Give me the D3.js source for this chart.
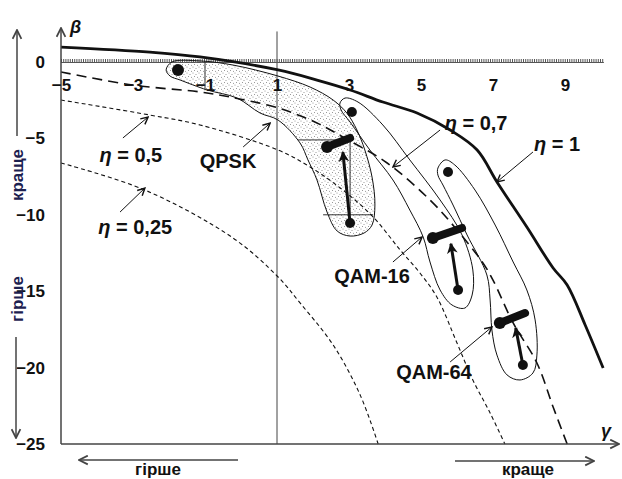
<!DOCTYPE html>
<html><head><meta charset="utf-8">
<script src="https://cdn.jsdelivr.net/npm/d3@7"></script>
<style>
html,body{margin:0;padding:0;background:#fff;}
svg{display:block;}
text{font-family:"Liberation Sans",Arial,sans-serif;font-weight:bold;fill:#111;}
</style></head>
<body>
<svg id="c" width="622" height="479"></svg>
<script>
// ---- data (γ, β) ----
const gammaTicks = [-5, -3, -1, 1, 3, 5, 7, 9];
const betaTicks = [0, -5, -10, -15, -20, -25];

const eta1 = [[-5,0.98],[-2.53,0.65],[-1.14,0.33],[1.03,-0.52],[2.11,-1.18],[3.03,-1.83],[3.94,-2.62],[4.89,-3.34],[5.81,-4.45],[6.56,-5.76],[7.11,-7.85],[7.94,-10.8],[8.67,-13.48],[9.06,-14.59],[9.56,-17.21],[10.06,-20.03]];
const eta07 = [[-5,-0.65],[-3,-1.51],[-1.14,-1.96],[-0.31,-2.29],[1.03,-3.01],[2.11,-3.99],[2.83,-4.91],[4.06,-6.61],[5.25,-9.03],[6.0,-10.99],[6.72,-13.15],[7.0,-14.27],[7.56,-17.08],[8.22,-19.7],[8.67,-22.58],[9.06,-25]];
const eta05 = [[-5,-2.49],[-2.53,-3.47],[-1.14,-4.12],[1.03,-5.76],[1.92,-6.87],[2.83,-8.38],[3.67,-10.14],[4.42,-12.3],[4.97,-13.81],[5.44,-15.38],[6.0,-18.39],[6.44,-20.81],[6.92,-22.97],[7.33,-25]];
const eta025 = [[-5,-6.61],[-2.67,-8.38],[-0.22,-11.52],[1.03,-14.07],[1.64,-15.77],[2.56,-18.52],[3.31,-21.79],[3.81,-25]];

const qpskRegion = [[-2.08,-0.52],[-1.92,0],[-1.14,0.07],[-0.22,-0.2],[1.03,-0.92],[1.92,-1.64],[2.56,-2.49],[2.94,-3.34],[3.22,-4.45],[3.44,-5.76],[3.64,-7.53],[3.72,-9.36],[3.64,-10.67],[3.42,-11.19],[3.03,-11.39],[2.67,-11.06],[2.39,-9.82],[2.11,-7.72],[1.86,-6.41],[1.64,-5.3],[1.03,-3.8],[0.53,-3.34],[-0.11,-2.36],[-0.94,-1.83],[-1.69,-1.18],[-1.97,-0.92]];
const qam16Region = [[2.75,-2.68],[2.89,-2.36],[3.25,-2.62],[3.94,-4.12],[4.69,-6.41],[5.53,-9.03],[6.14,-11.32],[6.44,-13.61],[6.42,-15.25],[6.22,-16.1],[5.86,-15.9],[5.53,-14.92],[5.25,-13.09],[5.06,-11.45],[4.69,-9.69],[4.22,-7.72],[3.58,-5.76],[3.03,-3.93],[2.78,-3.14]];
const qam64Region = [[5.47,-6.94],[5.67,-6.41],[5.94,-6.74],[6.5,-8.38],[7.06,-10.67],[7.56,-13.09],[7.94,-14.92],[8.17,-16.88],[8.22,-19.18],[8.11,-20.35],[7.75,-20.81],[7.39,-20.48],[7.11,-19.18],[6.97,-17.54],[6.92,-15.58],[6.83,-13.94],[6.28,-11.32],[5.89,-9.36],[5.61,-8.05],[5.47,-7.4]];

// QPSK projection lines
const qpskGuides = [[[-1,0],[-1,-1.85]],[[1.58,-5.1],[3.03,-5.1]],[[3.03,-5.1],[3.03,-10.0]],[[2.28,-10.0],[3.67,-10.0]]];

// single points (start points of each scheme)
const topDots = [[-1.75,-0.52,6],[3.08,-3.27,5],[5.75,-7.2,5]];
// clusters: bar from/to, bottom dot, arrow head
const clusters = [
  {bar:[[2.39,-5.56],[3.03,-4.97]], bottom:[3.03,-10.54], head:[2.83,-5.9]},
  {bar:[[5.33,-11.52],[6.14,-10.86]], bottom:[6.03,-14.92], head:[5.83,-11.9]},
  {bar:[[7.19,-17.08],[7.89,-16.43]], bottom:[7.83,-19.83], head:[7.63,-17.4]}
];

const labels = [
  {t:"η = 0,5", g:-3.06, b:-6.09, from:[-3.28,-4.97], to:[-2.58,-3.6]},
  {t:"η = 0,25", g:-2.94, b:-10.8, from:[-3.36,-9.82], to:[-2.67,-8.25]},
  {t:"QPSK", g:-0.36, b:-6.48, from:[0.06,-5.56], to:[0.81,-4.0]},
  {t:"η = 0,7", g:6.53, b:-3.99, from:[5.53,-4.45], to:[4.22,-6.87]},
  {t:"η = 1", g:8.78, b:-5.37, from:[8.11,-5.89], to:[7.11,-7.85]},
  {t:"QAM-16", g:3.64, b:-14.0, from:[4.22,-13.09], to:[5.03,-11.45]},
  {t:"QAM-64", g:5.36, b:-20.29, from:[5.81,-19.63], to:[6.97,-17.34]}
];

// ---- drawing ----
const svg = d3.select("#c");
const x = d3.scaleLinear().domain([-5, 10]).range([61, 601]);
const y = d3.scaleLinear().domain([-25, 0]).range([444, 62]);

const defs = svg.append("defs");
const pat = defs.append("pattern").attr("id","stip").attr("patternUnits","userSpaceOnUse").attr("width",6).attr("height",6);
[[1,1],[4,2.5],[2.5,4.5],[5.5,5.2]].forEach(p=>pat.append("circle").attr("cx",p[0]).attr("cy",p[1]).attr("r",0.5).attr("fill","#777"));
function marker(id, color, w){
  defs.append("marker").attr("id",id).attr("viewBox","0 0 10 10").attr("refX",9).attr("refY",5)
    .attr("markerWidth",w).attr("markerHeight",w).attr("markerUnits","userSpaceOnUse").attr("orient","auto")
    .append("path").attr("d","M1,1 L9,5 L1,9").attr("fill","none").attr("stroke",color).attr("stroke-width",1.6);
}
marker("arr","#111",9);
marker("arrAx","#444",11);
defs.append("marker").attr("id","arrBig").attr("viewBox","0 0 10 10").attr("refX",8).attr("refY",5)
  .attr("markerWidth",12).attr("markerHeight",12).attr("markerUnits","userSpaceOnUse").attr("orient","auto")
  .append("path").attr("d","M0,0.5 L9,5 L0,9.5 L2.5,5 Z").attr("fill","#111");

const line = d3.line().x(d=>x(d[0])).y(d=>y(d[1]));
const smooth = d3.line().x(d=>x(d[0])).y(d=>y(d[1])).curve(d3.curveCatmullRom.alpha(0.5));
const closed = d3.line().x(d=>x(d[0])).y(d=>y(d[1])).curve(d3.curveCatmullRomClosed.alpha(0.5));

// vertical reference line at γ = 1
svg.append("line").attr("x1",x(1)).attr("x2",x(1)).attr("y1",y(2.0)).attr("y2",y(-25)).attr("stroke","#444").attr("stroke-width",1);

// β = 0 comb line
svg.append("line").attr("x1",x(-5)).attr("x2",x(10.08)).attr("y1",y(0)+0.5).attr("y2",y(0)+0.5).attr("stroke","#555").attr("stroke-width",1);
svg.append("line").attr("x1",x(-5)).attr("x2",x(10.08)).attr("y1",y(0)-1.5).attr("y2",y(0)-1.5).attr("stroke","#555").attr("stroke-width",3).attr("stroke-dasharray","1,1.2");

// regions
svg.append("path").attr("d",closed(qpskRegion)).attr("fill","url(#stip)").attr("stroke","#111").attr("stroke-width",1);
qpskGuides.forEach(g=>svg.append("path").attr("d",line(g)).attr("stroke","#333").attr("stroke-width",1).attr("fill","none"));
svg.append("path").attr("d",closed(qam16Region)).attr("fill","none").attr("stroke","#111").attr("stroke-width",1);
svg.append("path").attr("d",closed(qam64Region)).attr("fill","none").attr("stroke","#111").attr("stroke-width",1);

// efficiency curves
svg.append("path").attr("d",smooth(eta025)).attr("fill","none").attr("stroke","#111").attr("stroke-width",1.1).attr("stroke-dasharray","4,3");
svg.append("path").attr("d",smooth(eta05)).attr("fill","none").attr("stroke","#111").attr("stroke-width",1.1).attr("stroke-dasharray","4,3");
svg.append("path").attr("d",smooth(eta07)).attr("fill","none").attr("stroke","#111").attr("stroke-width",1.6).attr("stroke-dasharray","10,6");
svg.append("path").attr("d",smooth(eta1)).attr("fill","none").attr("stroke","#111").attr("stroke-width",2.8);

// points
topDots.forEach(d=>svg.append("circle").attr("cx",x(d[0])).attr("cy",y(d[1])).attr("r",d[2]).attr("fill","#111"));
clusters.forEach(c=>{
  svg.append("path").attr("d",line(c.bar)).attr("stroke","#111").attr("stroke-width",8).attr("stroke-linecap","round");
  svg.append("circle").attr("cx",x(c.bar[0][0])).attr("cy",y(c.bar[0][1])).attr("r",6).attr("fill","#111");
  svg.append("circle").attr("cx",x(c.bottom[0])).attr("cy",y(c.bottom[1])).attr("r",5).attr("fill","#111");
  svg.append("line").attr("x1",x(c.bottom[0])).attr("y1",y(c.bottom[1])).attr("x2",x(c.head[0])).attr("y2",y(c.head[1]))
    .attr("stroke","#111").attr("stroke-width",3).attr("marker-end","url(#arrBig)");
});

// annotations
labels.forEach(l=>{
  svg.append("line").attr("x1",x(l.from[0])).attr("y1",y(l.from[1])).attr("x2",x(l.to[0])).attr("y2",y(l.to[1]))
    .attr("stroke","#111").attr("stroke-width",1).attr("marker-end","url(#arr)");
  const t = svg.append("text").attr("x",x(l.g)).attr("y",y(l.b)).attr("text-anchor","middle").attr("dominant-baseline","central").attr("font-size",20);
  if (l.t.startsWith("η")) {
    t.append("tspan").attr("font-style","italic").text("η");
    t.append("tspan").text(l.t.slice(1));
  } else t.text(l.t);
});

// axes
svg.append("line").attr("x1",x(-5)).attr("y1",y(-25)).attr("x2",x(-5)).attr("y2",28).attr("stroke","#444").attr("stroke-width",1.5).attr("marker-end","url(#arrAx)");
svg.append("line").attr("x1",x(-5)).attr("y1",y(-25)).attr("x2",619).attr("y2",y(-25)).attr("stroke","#444").attr("stroke-width",1.5).attr("marker-end","url(#arrAx)");

const ay = svg.append("g").attr("transform",`translate(${x(-5)},0)`).call(d3.axisLeft(y).tickValues(betaTicks).tickSize(0).tickPadding(16).tickFormat(d3.format("d")));
ay.select(".domain").remove();
ay.selectAll("text").attr("font-size",17).attr("font-family","Liberation Sans, Arial").attr("font-weight","bold").attr("fill","#111");
const ax = svg.append("g").attr("transform",`translate(0,${y(0)})`).call(d3.axisBottom(x).tickValues(gammaTicks).tickSize(0).tickPadding(17).tickFormat(d3.format("d")));
ax.select(".domain").remove();
ax.selectAll("text").attr("font-size",17).attr("font-family","Liberation Sans, Arial").attr("font-weight","bold").attr("fill","#111");

svg.append("text").attr("x",70).attr("y",33).attr("font-size",18).attr("font-style","italic").text("β");
svg.append("text").attr("x",601).attr("y",437).attr("font-size",18).attr("font-style","italic").text("γ");

// better / worse arrows
const navy = "#1c2150";
svg.append("line").attr("x1",17).attr("y1",136).attr("x2",17).attr("y2",30).attr("stroke","#444").attr("stroke-width",1.5).attr("marker-end","url(#arrAx)");
svg.append("line").attr("x1",16).attr("y1",337).attr("x2",16).attr("y2",438).attr("stroke","#444").attr("stroke-width",1.5).attr("marker-end","url(#arrAx)");
svg.append("text").attr("transform","translate(17,175) rotate(-90)").attr("text-anchor","middle").attr("dominant-baseline","central").attr("font-size",17).style("fill",navy).text("краще");
svg.append("text").attr("transform","translate(17,299) rotate(-90)").attr("text-anchor","middle").attr("dominant-baseline","central").attr("font-size",17).style("fill",navy).text("гірше");
svg.append("line").attr("x1",238).attr("y1",460).attr("x2",79).attr("y2",460).attr("stroke","#444").attr("stroke-width",1.5).attr("marker-end","url(#arrAx)");
svg.append("line").attr("x1",455).attr("y1",461).attr("x2",594).attr("y2",461).attr("stroke","#444").attr("stroke-width",1.5).attr("marker-end","url(#arrAx)");
svg.append("text").attr("x",158).attr("y",475).attr("text-anchor","middle").attr("font-size",17).text("гірше");
svg.append("text").attr("x",528).attr("y",475).attr("text-anchor","middle").attr("font-size",17).text("краще");
</script>
</body></html>
